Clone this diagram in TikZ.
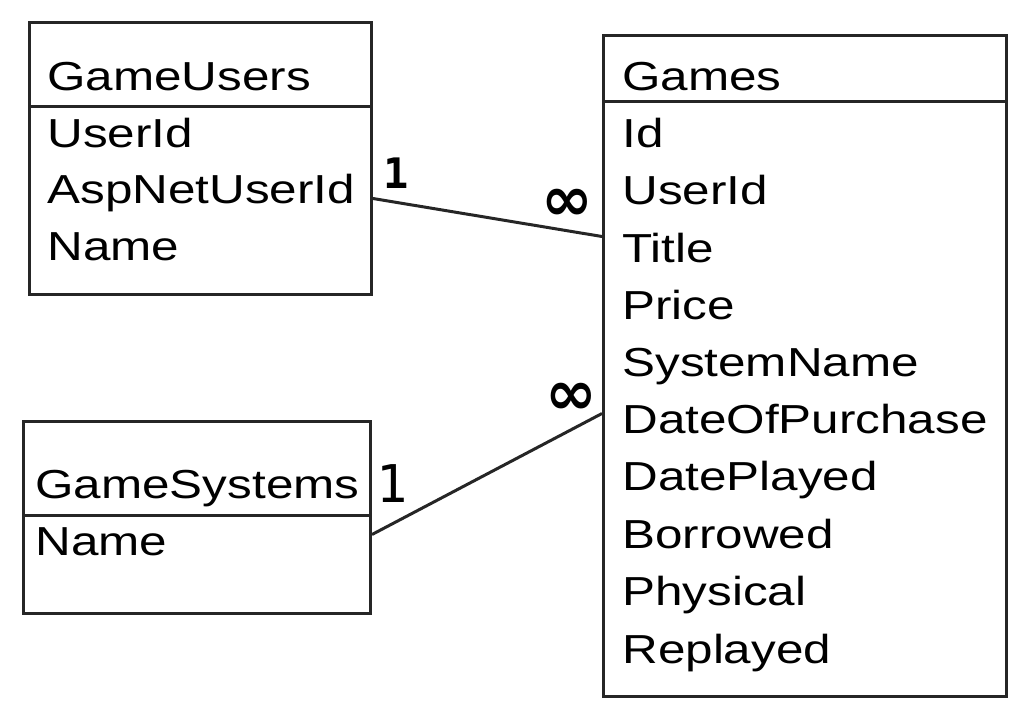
\documentclass[tikz,border=0pt]{standalone}
\usepackage{fontspec}
\setmainfont{Liberation Sans}[FakeStretch=1.22]
\newfontfamily\handfont{DejaVu Sans Mono}
\newfontfamily\symfont{DejaVu Sans}
\usetikzlibrary{positioning, calc}
\tikzstyle{table} = [rectangle, draw=black!85, line width=1.5pt, inner sep=0pt,
  anchor=north west]
\tikzstyle{field} = [anchor=base west, inner sep=0pt,
  font=\fontsize{20.25}{24}\selectfont]
\tikzstyle{rel} = [draw=black!85, line width=1.5pt]
\tikzstyle{one} = [inner sep=0pt, font=\handfont\bfseries\fontsize{21}{24}\selectfont]
\tikzstyle{many} = [inner sep=0pt, font=\symfont\bfseries\fontsize{31}{33}\selectfont]
\begin{document}
\begin{tikzpicture}[x=0.5pt, y=-0.5pt]
    \useasboundingbox (0,0) rectangle (1030,725);

    % tables
    \node [table, minimum width=171pt, minimum height=136pt] (users) at (28,21) {};
    \node [table, minimum width=201.5pt, minimum height=330.5pt] (games) at (602,34) {};
    \node [table, minimum width=173.5pt, minimum height=96pt] (systems) at (22,420) {};

    \path [rel] (users.west |- 0,106) -- (users.east |- 0,106);
    \path [rel] (games.west |- 0,101) -- (games.east |- 0,101);
    \path [rel] (systems.west |- 0,515) -- (systems.east |- 0,515);

    % GameUsers
    \node [field] (usersTitle) at (47,90) {GameUsers};
    \node [field] (usersUserId) at (47,147) {UserId};
    \node [field] (usersAspNet) at (47,203) {AspNetUserId};
    \node [field] (usersName) at (47,260) {Name};

    % Games
    \node [field] (gamesTitle) at (622,90) {Games};
    \node [field] (gamesId) at (622,147) {Id};
    \node [field] (gamesUserId) at (622,204) {UserId};
    \node [field] (gamesGameTitle) at (622,262) {Title};
    \node [field] (gamesPrice) at (622,319) {Price};
    \node [field] (gamesSystem) at (622,376) {SystemName};
    \node [field] (gamesPurchase) at (622,433) {DateOfPurchase};
    \node [field] (gamesPlayed) at (622,490) {DatePlayed};
    \node [field] (gamesBorrowed) at (622,548) {Borrowed};
    \node [field] (gamesPhysical) at (622,605) {Physical};
    \node [field] (gamesReplayed) at (622,663) {Replayed};

    % GameSystems
    \node [field] (systemsTitle) at (35,498) {GameSystems};
    \node [field] (systemsName) at (35,555) {Name};

    % relations
    \path [rel] ([yshift=-20pt]users.east) -- ([yshift=64.75pt]games.west);
    \path [rel] ([yshift=-8.5pt]systems.east) -- ([yshift=-23.75pt]games.west);

    \node [one] (oneUsers) at (396,173) {1};
    \node [many] (manyUsers) at (567,205) {∞};
    \node [many] (manySystems) at (571,399) {∞};
    \node [one, font=\handfont\fontsize{26}{28}\selectfont] (oneSystems) at (392,484) {1};

  \end{tikzpicture}
\end{document}
